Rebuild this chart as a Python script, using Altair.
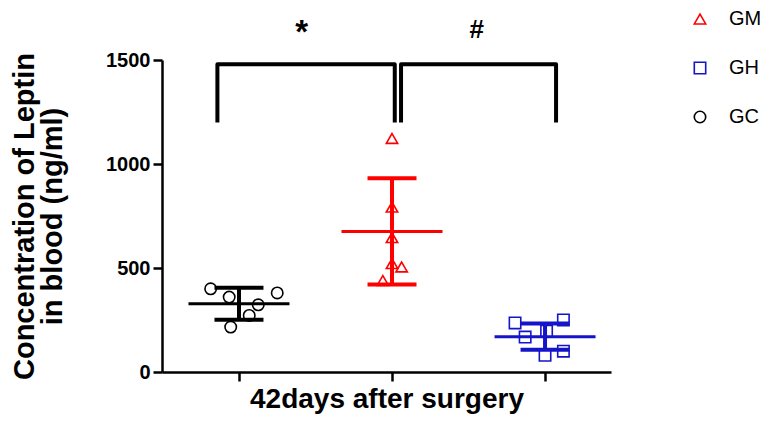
import altair as alt
import pandas as pd

# ---- data ----
groups = ["GC", "GM", "GH"]
group_pos = [1, 2, 3]

gc_values = [400, 360, 380, 323, 272, 216]
gc_jitter = [-0.185, -0.064, 0.25, 0.126, 0.067, -0.054]
gm_values = [1123, 793, 646, 521, 505, 440]
gm_jitter = [0.0, 0.0, 0.0, 0.0, 0.063, -0.06]
gh_values = [236, 250, 168, 196, 100, 80]
gh_jitter = [-0.196, 0.12, -0.13, 0.01, 0.12, 0.0]

means = [328, 676, 170]
sds = [77, 255, 63]

legend_order = ["GM", "GH", "GC"]
legend_colors = ["#ff0000", "#1414c8", "#000000"]
legend_shapes = ["triangle-up", "square", "circle"]

# significance brackets (data units)
br_id = ["a", "a", "a", "a", "b", "b", "b", "b"]
br_order = [0, 1, 2, 3, 0, 1, 2, 3]
br_x = [0.859, 0.859, 2.018, 2.018, 2.059, 2.059, 3.072, 3.072]
br_y = [1200, 1480, 1480, 1200, 1200, 1480, 1480, 1200]
sig_text = ["*", "#"]
sig_x = [1.41, 2.553]
sig_y = [1580, 1604]

# ---- tables ----
rows = []
for g, p, vals, jit in [("GC", 1, gc_values, gc_jitter),
                         ("GM", 2, gm_values, gm_jitter),
                         ("GH", 3, gh_values, gh_jitter)]:
    for v, j in zip(vals, jit):
        rows.append({"group": g, "xp": p + j, "value": v})
pts = pd.DataFrame(rows)
stats = pd.DataFrame({"group": groups, "pos": group_pos, "mean": means, "sd": sds})
brackets = pd.DataFrame({"id": br_id, "ord": br_order, "x": br_x, "y": br_y})
sig = pd.DataFrame({"text": sig_text, "x": sig_x, "y": sig_y})

FONT = "Liberation Sans"
xscale = alt.Scale(domain=[0.497, 3.431], nice=False, zero=False)
yscale = alt.Scale(domain=[0, 1500], nice=False)
cscale = alt.Scale(domain=legend_order, range=legend_colors)
sscale = alt.Scale(domain=legend_order, range=legend_shapes)

xaxis = alt.Axis(values=[1, 2, 3], labels=False, grid=False, title="42days after surgery",
                 titleFont=FONT, titleFontSize=28, titleFontWeight="bold", titleColor="black",
                 titlePadding=3, tickSize=9, tickWidth=2.5, tickColor="black",
                 domainColor="black", domainWidth=2.5)
yaxis = alt.Axis(values=[0, 500, 1000, 1500], grid=False, format="d",
                 title=["Concentration of Leptin", "in blood (ng/ml)"],
                 titleFont=FONT, titleFontSize=29, titleFontWeight="bold", titleColor="black",
                 titleLineHeight=28, titlePadding=38,
                 labelFont=FONT, labelFontSize=20, labelFontWeight="bold", labelColor="black",
                 labelPadding=3, tickSize=9, tickWidth=2.5, tickColor="black",
                 domainColor="black", domainWidth=2.5)

leg = alt.Legend(title=None, orient="none", legendX=528, legendY=-51,
                 labelFont=FONT, labelFontSize=20, labelColor="black", labelOffset=19,
                 symbolSize=130, symbolStrokeWidth=1.6, rowPadding=29, padding=0)

points = alt.Chart(pts).mark_point(filled=False, size=130, strokeWidth=1.6, opacity=1).encode(
    x=alt.X("xp:Q", scale=xscale, axis=xaxis),
    y=alt.Y("value:Q", scale=yscale, axis=yaxis),
    color=alt.Color("group:N", scale=cscale, legend=leg),
    shape=alt.Shape("group:N", scale=sscale, legend=leg),
)

sbase = alt.Chart(stats).transform_calculate(
    lo="datum.mean - datum.sd", hi="datum.mean + datum.sd",
    cl="datum.pos - 0.16", cr="datum.pos + 0.16",
    ml="datum.pos - 0.33", mr="datum.pos + 0.33",
)
col = alt.Color("group:N", scale=cscale)

vbar = sbase.mark_rule(strokeWidth=4).encode(
    x=alt.X("pos:Q", scale=xscale), y=alt.Y("lo:Q", scale=yscale), y2="hi:Q", color=col)
cap_lo = sbase.mark_rule(strokeWidth=4).encode(
    x=alt.X("cl:Q", scale=xscale), x2="cr:Q", y=alt.Y("lo:Q", scale=yscale), color=col)
cap_hi = sbase.mark_rule(strokeWidth=4).encode(
    x=alt.X("cl:Q", scale=xscale), x2="cr:Q", y=alt.Y("hi:Q", scale=yscale), color=col)
mean_line = sbase.mark_rule(strokeWidth=3).encode(
    x=alt.X("ml:Q", scale=xscale), x2="mr:Q", y=alt.Y("mean:Q", scale=yscale), color=col)

br = alt.Chart(brackets).mark_line(color="black", strokeWidth=4, strokeJoin="round").encode(
    x=alt.X("x:Q", scale=xscale), y=alt.Y("y:Q", scale=yscale),
    detail="id:N", order="ord:Q")

star = alt.Chart(sig).transform_filter("datum.text == '*'").mark_text(
    font=FONT, fontSize=33, fontWeight="bold", color="black",
    baseline="alphabetic", align="center").encode(
    x=alt.X("x:Q", scale=xscale), y=alt.Y("y:Q", scale=yscale), text="text:N")
hash_ = alt.Chart(sig).transform_filter("datum.text == '#'").mark_text(
    font=FONT, fontSize=26, fontWeight="bold", color="black",
    baseline="alphabetic", align="center").encode(
    x=alt.X("x:Q", scale=xscale), y=alt.Y("y:Q", scale=yscale), text="text:N")

chart = alt.layer(points, br, star, hash_, vbar, cap_lo, cap_hi, mean_line).properties(
    width=449, height=312,
    autosize=alt.AutoSizeParams(type="none"),
    padding={"left": 154, "top": 52, "right": 152, "bottom": 44},
    background="white",
).configure_view(stroke=None)

chart.save("out.html", embed_options={"renderer": "svg", "actions": False})
